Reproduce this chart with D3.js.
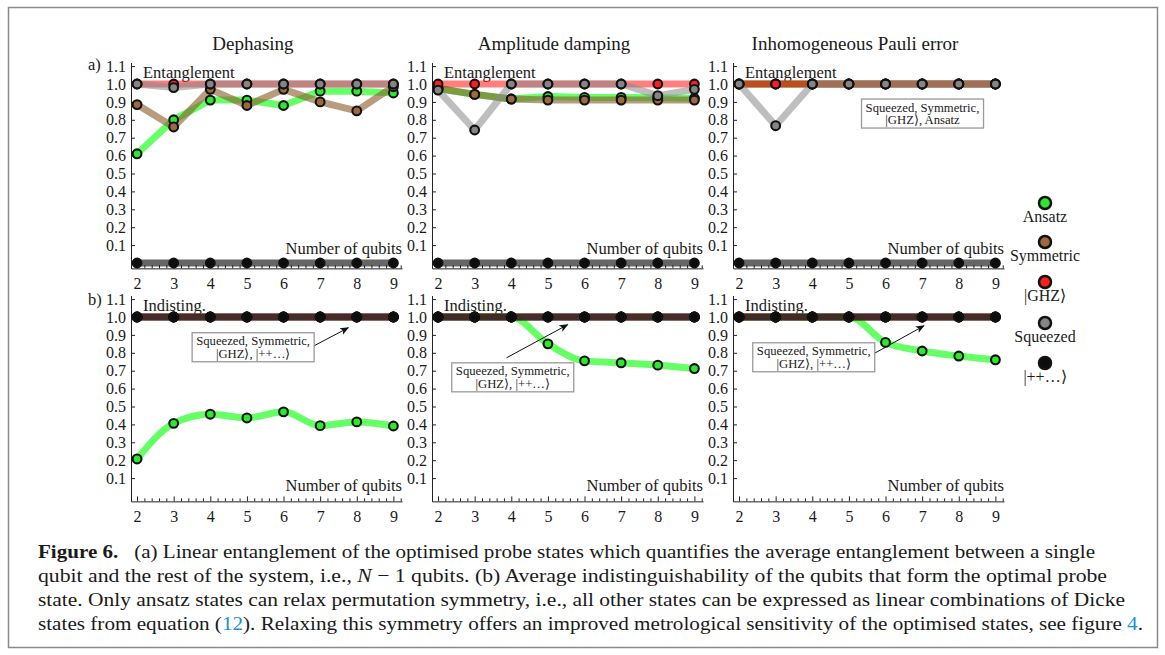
<!DOCTYPE html>
<html>
<head>
<meta charset="utf-8">
<script src="https://cdn.jsdelivr.net/npm/d3@7"></script>
<style>
body { margin: 0; background: #fff; }
</style>
</head>
<body>
<svg id="fig" width="1165" height="655"></svg>
<script>
// qubit counts and y ticks
const qubits = [2, 3, 4, 5, 6, 7, 8, 9];
const yTicks = [0.1, 0.2, 0.3, 0.4, 0.5, 0.6, 0.7, 0.8, 0.9, 1.0, 1.1];
const titles = ["Dephasing", "Amplitude damping", "Inhomogeneous Pauli error"];

// a) entanglement - dephasing
const dephEntAnsatz    = [0.61, 0.80, 0.91, 0.91, 0.88, 0.96, 0.96, 0.95];
const dephEntSymmetric = [0.885, 0.76, 0.97, 0.88, 0.97, 0.90, 0.85, 0.985];
const dephEntGHZ       = [1, 1, 1, 1, 1, 1, 1, 1];
const dephEntSqueezed  = [1, 0.98, 1, 1, 1, 1, 1, 1];
const dephEntProduct   = [0, 0, 0, 0, 0, 0, 0, 0];
// a) entanglement - amplitude damping
const ampEntAnsatz    = [0.975, 0.942, 0.916, 0.93, 0.925, 0.925, 0.923, 0.92];
const ampEntSymmetric = [0.975, 0.942, 0.916, 0.91, 0.91, 0.91, 0.91, 0.91];
const ampEntGHZ       = [1, 1, 1, 1, 1, 1, 1, 1];
const ampEntSqueezed  = [0.966, 0.743, 1, 1, 1, 1, 0.935, 0.97];
const ampEntProduct   = [0, 0, 0, 0, 0, 0, 0, 0];
// a) entanglement - inhomogeneous Pauli
const pauEntAnsatz    = [1, 1, 1, 1, 1, 1, 1, 1];
const pauEntSymmetric = [1, 1, 1, 1, 1, 1, 1, 1];
const pauEntGHZ       = [1, 1, 1, 1, 1, 1, 1, 1];
const pauEntSqueezed  = [1, 0.767, 1, 1, 1, 1, 1, 1];
const pauEntProduct   = [0, 0, 0, 0, 0, 0, 0, 0];

// b) indistinguishability
const dephIndAnsatz = [0.207, 0.406, 0.457, 0.436, 0.47, 0.393, 0.414, 0.391];
const ampIndAnsatz  = [1, 1, 1, 0.85, 0.755, 0.744, 0.731, 0.712];
const pauIndAnsatz  = [1, 1, 1, 1, 0.858, 0.81, 0.782, 0.761];
const indOthers     = [1, 1, 1, 1, 1, 1, 1, 1];   // Symmetric, GHZ, Squeezed, |++...>

const seriesNames = ["Ansatz", "Symmetric", "|GHZ\u27E9", "Squeezed", "|++\u2026\u27E9"];
const lineColors  = ["#00ff00", "#8b5a2b", "#ff0000", "#888888", "#000000"];
const lineOpac    = [0.6, 0.6, 0.5, 0.55, 0.6];
const dotColors   = ["#2ee82e", "#9c6a3e", "#ff1c1c", "#858585", "#0d0d0d"];

const panels = [
  {col: 0, row: 0, curve: false, series: [dephEntAnsatz, dephEntSymmetric, dephEntGHZ, dephEntSqueezed, dephEntProduct]},
  {col: 1, row: 0, curve: false, series: [ampEntAnsatz, ampEntSymmetric, ampEntGHZ, ampEntSqueezed, ampEntProduct]},
  {col: 2, row: 0, curve: false, series: [pauEntAnsatz, pauEntSymmetric, pauEntGHZ, pauEntSqueezed, pauEntProduct]},
  {col: 0, row: 1, curve: true, series: [dephIndAnsatz, indOthers, indOthers, indOthers, indOthers]},
  {col: 1, row: 1, curve: true, series: [ampIndAnsatz, indOthers, indOthers, indOthers, indOthers]},
  {col: 2, row: 1, curve: true, series: [pauIndAnsatz, indOthers, indOthers, indOthers, indOthers]}
];

// annotation boxes (data units of the panel they sit in)
const notes = [
  {col: 2, row: 0, cx: 7.01, top: 0.916, lines: ["Squeezed, Symmetric,", "|GHZ\u27E9, Ansatz"]},
  {col: 0, row: 1, cx: 5.17, top: 0.912, lines: ["Squeezed, Symmetric,", "|GHZ\u27E9, |++\u2026\u27E9"], arrow: [6.73, 0.828, 7.77, 0.94]},
  {col: 1, row: 1, cx: 4.04, top: 0.744, lines: ["Squeezed, Symmetric,", "|GHZ\u27E9, |++\u2026\u27E9"], arrow: [3.87, 0.772, 5.54, 0.957]},
  {col: 2, row: 1, cx: 4.04, top: 0.856, lines: ["Squeezed, Symmetric,", "|GHZ\u27E9, |++\u2026\u27E9"], arrow: [5.53, 0.778, 7.05, 0.951]}
];

const svg = d3.select("#fig");

svg.append("defs").append("marker")
  .attr("id", "arr").attr("viewBox", "0 0 10 10")
  .attr("refX", 9).attr("refY", 5)
  .attr("markerWidth", 9).attr("markerHeight", 9)
  .attr("markerUnits", "userSpaceOnUse")
  .attr("orient", "auto")
  .append("path").attr("d", "M0,1 L10,5 L0,9 L2.5,5 Z").attr("fill", "#111");

// frame
svg.append("rect")
  .attr("x", 8.5).attr("y", 7.5).attr("width", 1149).attr("height", 640)
  .attr("fill", "none").attr("stroke", "#8a8a8a").attr("stroke-width", 1.5);

const colLeft = [131, 432, 733];
const plotW = 271;
const rowZero = [263, 496];   // pixel of value 0
const unit = 179;             // pixels per 1.0

function xs(col) {
  return d3.scaleLinear().domain([1.835, 9.235]).range([colLeft[col], colLeft[col] + plotW]);
}
function ys(row) {
  return d3.scaleLinear().domain([-0.03, 1.12])
    .range([rowZero[row] + 0.03 * unit, rowZero[row] - 1.12 * unit]);
}

// titles
titles.forEach((t, i) => {
  svg.append("text")
    .attr("x", colLeft[i] + 122).attr("y", 50)
    .attr("text-anchor", "middle").style("font-size", "19px")
    .text(t);
});

svg.append("text").attr("x", 88).attr("y", 70).style("font-size", "16.5px").text("a)");
svg.append("text").attr("x", 88).attr("y", 305).style("font-size", "16.5px").text("b)");

panels.forEach(p => {
  const x = xs(p.col), y = ys(p.row);
  const g = svg.append("g");

  // y axis
  const ya = g.append("g").attr("transform", `translate(${colLeft[p.col]},0)`)
    .call(d3.axisLeft(y).tickValues(yTicks).tickFormat(d3.format(".1f"))
      .tickSizeInner(-4).tickSizeOuter(0).tickPadding(5));
  ya.selectAll("text").style("font-size", "16px");
  ya.selectAll("line,path").attr("stroke", "#222");

  // x axis
  const yAx = y(-0.03);
  const xa = g.append("g").attr("transform", `translate(0,${yAx})`)
    .call(d3.axisBottom(x).tickValues(qubits).tickFormat(d3.format("d"))
      .tickSizeInner(-5).tickSizeOuter(0).tickPadding(9));
  xa.selectAll("text").style("font-size", "16px");
  xa.selectAll("line,path").attr("stroke", "#222");
  const minor = d3.range(10, 47).map(i => i / 5).filter(v => v % 1 !== 0);
  const xm = g.append("g").attr("transform", `translate(0,${yAx})`)
    .call(d3.axisBottom(x).tickValues(minor).tickFormat("").tickSizeInner(-3).tickSizeOuter(0));
  xm.select(".domain").remove();
  xm.selectAll("line").attr("stroke", "#222");

  // panel labels
  g.append("text").attr("x", colLeft[p.col] + 12).attr("y", p.row === 0 ? 78 : 311)
    .style("font-size", "16.5px").text(p.row === 0 ? "Entanglement" : "Indisting.");
  g.append("text").attr("x", colLeft[p.col] + plotW).attr("y", p.row === 0 ? 254 : 491)
    .attr("text-anchor", "end").style("font-size", "16.5px").text("Number of qubits");

  // lines
  const line = d3.line().x((d, i) => x(qubits[i])).y(d => y(d));
  if (p.curve) line.curve(d3.curveMonotoneX);
  p.series.forEach((s, k) => {
    g.append("path").datum(s)
      .attr("d", line)
      .attr("fill", "none")
      .attr("stroke", lineColors[k])
      .attr("stroke-opacity", lineOpac[k])
      .attr("stroke-width", 7)
      .attr("stroke-linejoin", "round");
  });
  // dots
  p.series.forEach((s, k) => {
    g.selectAll(null).data(s).join("circle")
      .attr("cx", (d, i) => x(qubits[i]))
      .attr("cy", d => y(d))
      .attr("r", 4.4)
      .attr("fill", dotColors[k])
      .attr("stroke", "#111")
      .attr("stroke-width", 2.1);
  });
});

// annotation boxes
notes.forEach(n => {
  const x = xs(n.col), y = ys(n.row);
  const bx = x(n.cx) - 61, by = y(n.top);
  if (n.arrow) {
    svg.append("line")
      .attr("x1", x(n.arrow[0])).attr("y1", y(n.arrow[1]))
      .attr("x2", x(n.arrow[2])).attr("y2", y(n.arrow[3]))
      .attr("stroke", "#111").attr("stroke-width", 1)
      .attr("marker-end", "url(#arr)");
  }
  svg.append("rect").attr("x", bx).attr("y", by).attr("width", 122).attr("height", 29)
    .attr("fill", "#fff").attr("stroke", "#9a9a9a").attr("stroke-width", 1.3);
  n.lines.forEach((l, i) => {
    svg.append("text").attr("x", bx + 61).attr("y", by + 12.5 + i * 12.5)
      .attr("text-anchor", "middle").style("font-size", "12.7px").text(l);
  });
});

// legend
const legY = [203, 242, 282, 323, 363];
seriesNames.forEach((nm, k) => {
  svg.append("circle").attr("cx", 1045).attr("cy", legY[k]).attr("r", 6)
    .attr("fill", dotColors[k]).attr("stroke", "#111").attr("stroke-width", 2.5);
  svg.append("text").attr("x", 1045).attr("y", legY[k] + 19)
    .attr("text-anchor", "middle").style("font-size", "16px").text(nm);
});

// caption
const capLines = [
  {w: 1057, parts: [["Figure 6.", "b"], ["\u2002 (a) Linear entanglement of the optimised probe states which quantifies the average entanglement between a single", ""]]},
  {w: 1069, parts: [["qubit and the rest of the system, i.e., ", ""], ["N", "i"], [" \u2212 1 qubits. (b) Average indistinguishability of the qubits that form the optimal probe", ""]]},
  {w: 1087, parts: [["state. Only ansatz states can relax permutation symmetry, i.e., all other states can be expressed as linear combinations of Dicke", ""]]},
  {w: 1105, parts: [["states from equation (", ""], ["12", "c"], ["). Relaxing this symmetry offers an improved metrological sensitivity of the optimised states, see figure ", ""], ["4", "c"], [".", ""]]}
];
capLines.forEach((cl, i) => {
  const t = svg.append("text").attr("x", 38).attr("y", 558 + i * 24)
    .style("font-size", "19px")
    .attr("textLength", cl.w).attr("lengthAdjust", "spacingAndGlyphs");
  cl.parts.forEach(([s, f]) => {
    const ts = t.append("tspan").text(s);
    if (f === "b") ts.style("font-weight", "bold");
    if (f === "i") ts.style("font-style", "italic");
    if (f === "c") ts.style("fill", "#1b8fd8");
  });
});

// serif everywhere (inline, so it beats the axis font attribute)
svg.selectAll("text")
  .style("font-family", '"Liberation Serif"')
  .style("fill", function () { return this.style.fill || "#1a1a1a"; });
</script>
</body>
</html>
